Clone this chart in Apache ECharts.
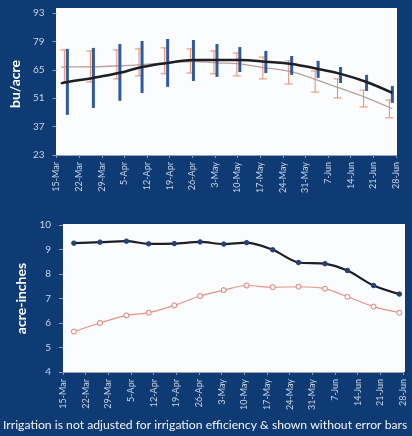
<!DOCTYPE html>
<html><head><meta charset="utf-8">
<script src="https://cdn.jsdelivr.net/npm/echarts@6/dist/echarts.min.js"></script>
<style>html,body{margin:0;padding:0;background:#0e3b73;}#c{width:412px;height:436px;}</style>
</head><body><div id="c"></div>
<script>
var dateLabels = ['15-Mar','22-Mar','29-Mar','5-Apr','12-Apr','19-Apr','26-Apr','3-May','10-May','17-May','24-May','31-May','7-Jun','14-Jun','21-Jun','28-Jun'];
// x positions of observations, in weeks after 15-Mar
var obsX = [0.48,1.63,2.8,3.78,4.91,6.05,7.09,8.1,9.25,10.39,11.56,12.55,13.7,14.84];
// Top panel: yield (bu/acre)
var yieldTicks = [23,37,51,65,79,93];
var yieldBlack = [59,61,63.5,66.4,68.4,69.8,69.8,69.8,69,67.9,65.4,63,59,53.6];
var blackStart = [0.2,58.3];
var blueHi = [75.3,75.8,77.7,79.2,80.2,79.7,77.7,76.2,74.3,71.8,69.4,66.4,62.5,57];
var blueLo = [42.8,46.2,49.7,53.6,56.6,59.5,61.5,63.9,63.4,62.5,61,58.5,54.6,48.7];
var yieldGrey = [66.4,66.5,67,67.6,68.5,69.1,68.4,67.9,65.9,64,59.8,55.8,51.2,45.8];
var greyStart = [0.2,66.3];
var orangeHi = [74.8,74.3,74.8,75.3,75.8,75.3,74.3,73.3,71.3,69.4,64.4,60.5,55,50.1];
var orangeLo = [58.5,59,60.5,62,63,63.4,63,62,60.5,58,54,51.1,46.7,41.3];
// Bottom panel: irrigation (acre-inches)
var irrBlack = [9.26,9.30,9.34,9.23,9.24,9.31,9.22,9.28,8.99,8.47,8.42,8.14,7.53,7.18];
var irrOrange = [5.65,6.0,6.31,6.42,6.72,7.1,7.34,7.53,7.46,7.48,7.4,7.07,6.67,6.42];
var footer = 'Irrigation is not adjusted for irrigation efficiency & shown without error bars';

function pairs(xs, ys){ return xs.map(function(x,i){ return [x, ys[i]]; }); }
function triples(xs, lo, hi){ return xs.map(function(x,i){ return [x, lo[i], hi[i]]; }); }
function errRender(color, width, cap, dx){
  return function(params, api){
    var p1 = api.coord([api.value(0), api.value(1)]);
    var p2 = api.coord([api.value(0), api.value(2)]);
    var x = p1[0] + dx;
    var ch = [{type:'line', shape:{x1:x,y1:p1[1],x2:x,y2:p2[1]}, style:{stroke:color,lineWidth:width}}];
    if (cap > 0) {
      ch.push({type:'line', shape:{x1:x-cap,y1:p1[1],x2:x+cap,y2:p1[1]}, style:{stroke:color,lineWidth:1}});
      ch.push({type:'line', shape:{x1:x-cap,y1:p2[1],x2:x+cap,y2:p2[1]}, style:{stroke:color,lineWidth:1}});
    }
    return {type:'group', children:ch};
  };
}
var lblColor = '#c9d3e4';
var FONT = 'Lato';
function xAxisCfg(gi){
  return {gridIndex:gi, type:'value', min:0, max:15, interval:1,
    axisLine:{show:true, lineStyle:{color:'#9aa6b8', width:1}},
    axisTick:{show:true, length:3, lineStyle:{color:'#8a98b0'}},
    splitLine:{show:false},
    axisLabel:{rotate:90, color:lblColor, fontSize:9, fontFamily:FONT, margin:7,
      formatter:function(v){ return dateLabels[Math.round(v)] || ''; }}
  };
}
var chart = echarts.init(document.getElementById('c'), null, {renderer:'canvas'});
chart.setOption({
  backgroundColor:'#0e3b73',
  animation:false,
  textStyle:{fontFamily:FONT},
  graphic:[
    {type:'rect', z:-10, shape:{x:56,y:8,width:341,height:147}, style:{fill:'#fbfcfd'}},
    {type:'rect', z:-10, shape:{x:63,y:224,width:342,height:148}, style:{fill:'#fbfcfd'}},
    {type:'text', left:3, top:419, style:{text:footer, fill:'#f2f4f8', fontSize:12.2, fontFamily:FONT}}
  ],
  grid:[
    {left:56, right:16, top:13, height:142},
    {left:63, right:9, top:225, height:147}
  ],
  xAxis:[xAxisCfg(0), xAxisCfg(1)],
  yAxis:[
    {gridIndex:0, type:'value', min:23, max:93, interval:14,
      name:'bu/acre', nameLocation:'middle', nameGap:32, nameRotate:90,
      nameTextStyle:{color:'#ffffff', fontSize:14, fontWeight:'bold', fontFamily:FONT},
      axisLine:{show:false}, axisTick:{show:true, length:4, lineStyle:{color:'#8a98b0'}},
      splitLine:{show:false},
      axisLabel:{color:lblColor, fontSize:10, fontFamily:FONT, margin:12}},
    {gridIndex:1, type:'value', min:4, max:10, interval:1,
      name:'acre-inches', nameLocation:'middle', nameGap:32, nameRotate:90,
      nameTextStyle:{color:'#ffffff', fontSize:14, fontWeight:'bold', fontFamily:FONT},
      axisLine:{show:false}, axisTick:{show:true, length:4, lineStyle:{color:'#8a98b0'}},
      splitLine:{show:false},
      axisLabel:{color:lblColor, fontSize:10, fontFamily:FONT, margin:12}}
  ],
  series:[
    {type:'line', xAxisIndex:0, yAxisIndex:0, smooth:0.4, symbol:'none', z:3,
      data:[greyStart].concat(pairs(obsX, yieldGrey)),
      lineStyle:{color:'#b9a19b', width:1.3}},
    {type:'custom', xAxisIndex:0, yAxisIndex:0, z:4,
      renderItem:errRender('#ec8a64', 1, 4, -3), data:triples(obsX, orangeLo, orangeHi)},
    {type:'custom', xAxisIndex:0, yAxisIndex:0, z:5,
      renderItem:errRender('#2d5aa0', 3, 0, 0), data:triples(obsX, blueLo, blueHi)},
    {type:'line', xAxisIndex:0, yAxisIndex:0, smooth:0.4, symbol:'none', z:6,
      data:[blackStart].concat(pairs(obsX, yieldBlack)),
      lineStyle:{color:'#1d1d22', width:2.5}},
    {type:'line', xAxisIndex:1, yAxisIndex:1, smooth:0.3, symbol:'circle', symbolSize:5, z:5,
      data:pairs(obsX, irrOrange),
      itemStyle:{color:'#fbfcfd', borderColor:'#e07a6a', borderWidth:1},
      lineStyle:{color:'#e59487', width:1.2}},
    {type:'line', xAxisIndex:1, yAxisIndex:1, smooth:0.3, symbol:'circle', symbolSize:4.5, z:6,
      data:pairs(obsX, irrBlack),
      itemStyle:{color:'#243f7a', borderColor:'#243f7a'},
      lineStyle:{color:'#1d1d26', width:2.2}}
  ]
});
</script></body></html>
